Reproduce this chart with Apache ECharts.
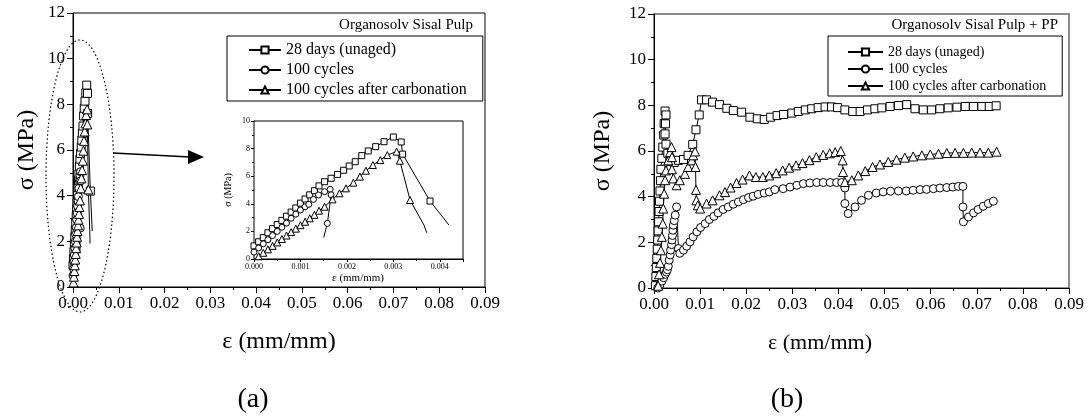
<!DOCTYPE html>
<html><head><meta charset="utf-8">
<script src="https://cdn.jsdelivr.net/npm/echarts@6/dist/echarts.min.js"></script>
<style>html,body{margin:0;padding:0;background:#fff}#c{width:1088px;height:419px}</style>
</head><body><div id="c"></div>
<script>
const seriesNames = ['28 days (unaged)', '100 cycles', '100 cycles after carbonation'];
const panelTitles = ['Organosolv Sisal Pulp', 'Organosolv Sisal Pulp + PP'];
const mainXTicks = ['0.00','0.01','0.02','0.03','0.04','0.05','0.06','0.07','0.08','0.09'];
const mainYTicks = ['0','2','4','6','8','10','12'];
const insetXTicks = ['0.000','0.001','0.002','0.003','0.004'];
const insetYTicks = ['0','2','4','6','8','10'];

// Panel (a) (also used by the inset): [strain, stress]
const sqA = [[0,0.95],[0.0001,1.25],[0.0002,1.55],[0.0003,1.9],[0.0004,2.2],[0.0005,2.5],[0.0006,2.8],[0.0007,3.1],[0.0008,3.4],[0.0009,3.7],[0.001,4.05],[0.0011,4.35],[0.0012,4.65],[0.0013,4.95],[0.0014,5.3],[0.00152,5.6],[0.00166,5.85],[0.0018,6.13],[0.00193,6.43],[0.00205,6.74],[0.00218,7.05],[0.00232,7.49],[0.00246,7.83],[0.00262,8.14],[0.0028,8.5],[0.003,8.84],[0.00317,8.48],[0.0032,7.6],[0.00379,4.2]];
const sqATail = [[0.0042,2.45]];
const circA = [[0,0.5],[0.0001,0.8],[0.0002,1.1],[0.0003,1.4],[0.0004,1.7],[0.0005,2.0],[0.0006,2.3],[0.0007,2.6],[0.0008,2.95],[0.0009,3.25],[0.001,3.55],[0.0011,3.78],[0.00118,3.96],[0.00128,4.32],[0.00139,4.64],[0.00152,4.88],[0.00164,5.05],[0.00166,4.65],[0.00158,2.58]];
const circATail = [[0.0015,1.55]];
const triA = [[0.0001,0.2],[0.0002,0.45],[0.0003,0.7],[0.0004,0.95],[0.0005,1.2],[0.0006,1.45],[0.0007,1.7],[0.0008,1.95],[0.0009,2.2],[0.001,2.45],[0.0011,2.7],[0.0012,2.95],[0.0013,3.2],[0.0014,3.5],[0.00152,3.79],[0.00169,4.32],[0.00184,4.76],[0.00198,5.12],[0.00214,5.53],[0.00228,5.97],[0.00241,6.4],[0.00256,6.81],[0.00272,7.17],[0.00287,7.53],[0.00307,7.78],[0.00314,7.12],[0.00336,4.27]];
const triATail = [[0.00366,2.46],[0.00372,1.9]];

// Panel (b)
const sqB = [[0.0003,0.1],[0.0004,0.5],[0.0005,0.9],[0.0006,1.3],[0.0007,1.7],[0.0008,2.1],[0.0009,2.5],[0.001,2.9],[0.0011,3.35],[0.0012,3.8],[0.0013,4.25],[0.0014,4.7],[0.0015,5.2],[0.0017,5.68],[0.0019,6.17],[0.0021,6.7],[0.0022,7.2],[0.0024,7.75],[0.0026,7.58],[0.0025,7.19],[0.0024,6.75],[0.0026,6.3],[0.003,5.9],[0.0036,5.55],[0.0044,5.5],[0.0053,5.59],[0.0064,5.63],[0.0074,5.81],[0.0084,6.29],[0.0091,6.93],[0.0098,7.58],[0.0103,8.24],[0.0114,8.24],[0.0127,8.14],[0.0142,8.03],[0.0158,7.87],[0.0172,7.77],[0.019,7.7],[0.0208,7.48],[0.0224,7.41],[0.0239,7.38],[0.0253,7.48],[0.0267,7.55],[0.0281,7.6],[0.0299,7.66],[0.0313,7.73],[0.0328,7.8],[0.0342,7.85],[0.0356,7.9],[0.0371,7.93],[0.0385,7.93],[0.0398,7.9],[0.0414,7.8],[0.0431,7.73],[0.0447,7.73],[0.0463,7.8],[0.0479,7.85],[0.0494,7.89],[0.0512,7.95],[0.053,7.99],[0.0548,8.03],[0.0566,7.85],[0.0584,7.8],[0.0602,7.8],[0.062,7.85],[0.0638,7.89],[0.0657,7.92],[0.0675,7.95],[0.0693,7.95],[0.0711,7.95],[0.0727,7.95],[0.0742,7.98]];
const circB = [[0.0008,0.0],[0.0013,0.15],[0.0017,0.3],[0.0021,0.45],[0.0024,0.6],[0.0027,0.7],[0.0029,0.8],[0.0031,0.95],[0.0033,1.22],[0.0035,1.45],[0.0036,1.66],[0.0038,1.9],[0.0039,2.1],[0.004,2.3],[0.0041,2.53],[0.0042,2.75],[0.0044,2.95],[0.0046,3.19],[0.0049,3.55],[0.0053,1.73],[0.0056,1.52],[0.0064,1.66],[0.0071,1.83],[0.0078,2.02],[0.0085,2.24],[0.0093,2.46],[0.0101,2.65],[0.0111,2.82],[0.012,3.0],[0.013,3.14],[0.0139,3.29],[0.015,3.44],[0.0161,3.55],[0.0172,3.67],[0.0183,3.77],[0.0194,3.87],[0.0205,3.96],[0.0215,4.02],[0.0226,4.1],[0.0239,4.16],[0.025,4.21],[0.0262,4.31],[0.028,4.35],[0.0295,4.42],[0.031,4.5],[0.0324,4.57],[0.0338,4.6],[0.0353,4.62],[0.0367,4.62],[0.0382,4.62],[0.0396,4.62],[0.0407,4.62],[0.0414,4.38],[0.0414,3.7],[0.0421,3.26],[0.0436,3.55],[0.045,3.84],[0.0465,4.06],[0.0482,4.16],[0.0497,4.21],[0.0513,4.24],[0.053,4.25],[0.0547,4.25],[0.0562,4.28],[0.0577,4.31],[0.0591,4.32],[0.0606,4.35],[0.062,4.38],[0.0635,4.4],[0.0648,4.42],[0.066,4.45],[0.067,4.45],[0.067,3.55],[0.0671,2.9],[0.0682,3.11],[0.0693,3.29],[0.0703,3.44],[0.0714,3.58],[0.0725,3.7],[0.0736,3.8]];
const triB = [[0.0009,0.1],[0.0011,0.6],[0.0013,1.1],[0.0015,1.65],[0.0017,2.24],[0.0019,2.82],[0.002,3.48],[0.0022,4.13],[0.0024,4.72],[0.0026,5.15],[0.0031,5.59],[0.0035,5.95],[0.0038,6.17],[0.0039,5.73],[0.0039,5.2],[0.0042,4.8],[0.0049,4.5],[0.0056,4.72],[0.0067,5.0],[0.0074,5.3],[0.0082,5.59],[0.0085,5.81],[0.0089,5.98],[0.009,5.3],[0.0091,4.3],[0.0092,3.84],[0.0095,3.62],[0.01,3.48],[0.0114,3.7],[0.0127,3.84],[0.0142,4.06],[0.0154,4.2],[0.0166,4.4],[0.0179,4.6],[0.0192,4.75],[0.0207,4.93],[0.0221,4.86],[0.0236,4.86],[0.025,4.93],[0.0265,5.03],[0.0279,5.15],[0.0293,5.27],[0.0308,5.37],[0.0322,5.47],[0.0337,5.6],[0.0352,5.73],[0.0367,5.83],[0.0381,5.9],[0.0393,5.95],[0.0405,6.0],[0.0409,5.59],[0.041,5.08],[0.0414,4.64],[0.0429,4.72],[0.0443,4.93],[0.0458,5.12],[0.0474,5.3],[0.049,5.41],[0.0508,5.52],[0.0526,5.62],[0.0544,5.71],[0.0562,5.76],[0.0581,5.81],[0.0599,5.85],[0.0617,5.88],[0.0635,5.91],[0.0653,5.92],[0.0671,5.92],[0.0689,5.93],[0.0707,5.93],[0.0725,5.93],[0.0743,5.97]];

const FONT = '"Liberation Serif", "Times New Roman", serif';
const chart = echarts.init(document.getElementById('c'), null, {renderer: 'canvas'});

function mkData(marked, tail) {
  return marked.map(p => p.slice()).concat((tail || []).map(p => ({value: p.slice(), symbol: 'none'})));
}
function mkSeries(name, sym, size, data, xi) {
  return {
    name: name, type: 'line', xAxisIndex: xi, yAxisIndex: xi,
    data: data, symbol: sym, symbolSize: size, showSymbol: true, showAllSymbol: true,
    itemStyle: {color: '#fff', borderColor: '#000', borderWidth: 1},
    lineStyle: {color: '#000', width: 1},
    emphasis: {disabled: true}, animation: false, z: 3
  };
}
function lbl(arr, step) {
  return function (v) { const i = Math.round(v / step); return Math.abs(v - i * step) < step * 1e-3 && arr[i] !== undefined ? arr[i] : ''; };
}
function mainX(gi) {
  return {type: 'value', gridIndex: gi, min: 0, max: 0.09, interval: 0.01,
    axisLine: {show: true, onZero: false, lineStyle: {color: '#000', width: 1}},
    axisTick: {show: true, inside: false, length: 6, lineStyle: {color: '#000'}},
    minorTick: {show: true, splitNumber: 2, length: 3, lineStyle: {color: '#000'}},
    splitLine: {show: false}, minorSplitLine: {show: false},
    axisLabel: {show: true, color: '#000', fontFamily: FONT, fontSize: 17, margin: 8, formatter: lbl(mainXTicks, 0.01)}};
}
function mainY(gi) {
  return {type: 'value', gridIndex: gi, min: 0, max: 12, interval: 2,
    axisLine: {show: true, onZero: false, lineStyle: {color: '#000', width: 1}},
    axisTick: {show: true, inside: false, length: 6, lineStyle: {color: '#000'}},
    minorTick: {show: true, splitNumber: 2, length: 3, lineStyle: {color: '#000'}},
    splitLine: {show: false}, minorSplitLine: {show: false},
    axisLabel: {show: true, color: '#000', fontFamily: FONT, fontSize: 17, margin: 8, formatter: lbl(mainYTicks, 2)}};
}
function legendOf(left, top, pad, fs, iw, ih, gap) {
  return {show: true, orient: 'vertical', left: left, top: top, data: seriesNames,
    padding: pad, itemWidth: iw, itemHeight: ih, itemGap: gap,
    borderColor: '#000', borderWidth: 1, backgroundColor: '#fff',
    selectedMode: false,
    textStyle: {color: '#000', fontFamily: FONT, fontSize: fs}};
}
function txt(x, y, s, fs, align, rot) {
  return {type: 'text', x: x, y: y, rotation: rot || 0, z: 10,
    style: {text: s, fill: '#000', font: fs + 'px ' + FONT, textAlign: align || 'center', textVerticalAlign: 'middle'}};
}

const option = {
  animation: false,
  backgroundColor: '#fff',
  grid: [
    {left: 73, top: 13, width: 412, height: 274, show: true, borderColor: '#000', borderWidth: 1, backgroundColor: 'transparent', containLabel: false, outerBoundsMode: 'none'},
    {left: 254, top: 121, width: 209, height: 138, show: true, borderColor: '#000', borderWidth: 1, backgroundColor: '#fff', containLabel: false, outerBoundsMode: 'none', z: 2},
    {left: 654, top: 14, width: 415, height: 274, show: true, borderColor: '#666', borderWidth: 1.5, backgroundColor: 'transparent', containLabel: false, outerBoundsMode: 'none'}
  ],
  xAxis: [
    mainX(0),
    {type: 'value', gridIndex: 1, min: 0, max: 0.0045, interval: 0.001,
      axisLine: {show: true, onZero: false, lineStyle: {color: '#000', width: 1}},
      axisTick: {show: true, inside: false, length: 3, lineStyle: {color: '#000'}},
      minorTick: {show: true, splitNumber: 2, length: 2, lineStyle: {color: '#000'}},
      splitLine: {show: false},
      axisLabel: {show: true, color: '#000', fontFamily: FONT, fontSize: 8, margin: 4, showMaxLabel: false, formatter: lbl(insetXTicks, 0.001)}},
    mainX(2)
  ],
  yAxis: [
    mainY(0),
    {type: 'value', gridIndex: 1, min: 0, max: 10, interval: 2,
      axisLine: {show: true, onZero: false, lineStyle: {color: '#000', width: 1}},
      axisTick: {show: true, inside: false, length: 3, lineStyle: {color: '#000'}},
      minorTick: {show: true, splitNumber: 2, length: 2, lineStyle: {color: '#000'}},
      splitLine: {show: false},
      axisLabel: {show: true, color: '#000', fontFamily: FONT, fontSize: 8, margin: 4, formatter: lbl(insetYTicks, 2)}},
    mainY(2)
  ],
  legend: [
    legendOf(227, 36, [6, 16, 3, 21], 16, 32, 9, 4),
    legendOf(828, 36, [9, 16, 3, 19], 14, 35, 9, 3)
  ],
  series: [
    mkSeries(seriesNames[0], 'rect', 8, mkData(sqA, sqATail), 0),
    mkSeries(seriesNames[1], 'circle', 8, mkData(circA, circATail), 0),
    mkSeries(seriesNames[2], 'triangle', 9, mkData(triA, triATail), 0),
    mkSeries(seriesNames[0], 'rect', 6, mkData(sqA, sqATail), 1),
    mkSeries(seriesNames[1], 'circle', 6, mkData(circA, circATail), 1),
    mkSeries(seriesNames[2], 'triangle', 7, mkData(triA, triATail), 1),
    mkSeries(seriesNames[0], 'rect', 8, mkData(sqB), 2),
    mkSeries(seriesNames[1], 'circle', 8, mkData(circB), 2),
    mkSeries(seriesNames[2], 'triangle', 9, mkData(triB), 2)
  ],
  graphic: [
    txt(473, 25, panelTitles[0], 15, 'right'),
    txt(1058, 25, panelTitles[1], 15, 'right'),
    txt(27, 150, 'σ (MPa)', 24, 'center', Math.PI / 2),
    txt(603, 151, 'σ (MPa)', 24, 'center', Math.PI / 2),
    txt(279, 342, 'ε (mm/mm)', 24, 'center'),
    txt(820, 343, 'ε (mm/mm)', 22, 'center'),
    txt(253, 400, '(a)', 28, 'center'),
    txt(787, 400, '(b)', 28, 'center'),
    txt(228, 190, 'σ (MPa)', 10, 'center', Math.PI / 2),
    txt(358, 278, 'ε (mm/mm)', 11, 'center'),
    {type: 'ellipse', z: 10, shape: {cx: 80, cy: 176, rx: 34, ry: 136},
      style: {fill: 'none', stroke: '#000', lineWidth: 1.2, lineDash: [1.5, 2.5]}},
    {type: 'line', z: 10, shape: {x1: 113, y1: 153, x2: 190, y2: 157}, style: {stroke: '#000', lineWidth: 1.5}},
    {type: 'polygon', z: 10, shape: {points: [[188, 150], [204, 157], [188, 164]]}, style: {fill: '#000'}}
  ]
};
chart.setOption(option);
</script>
</body></html>
